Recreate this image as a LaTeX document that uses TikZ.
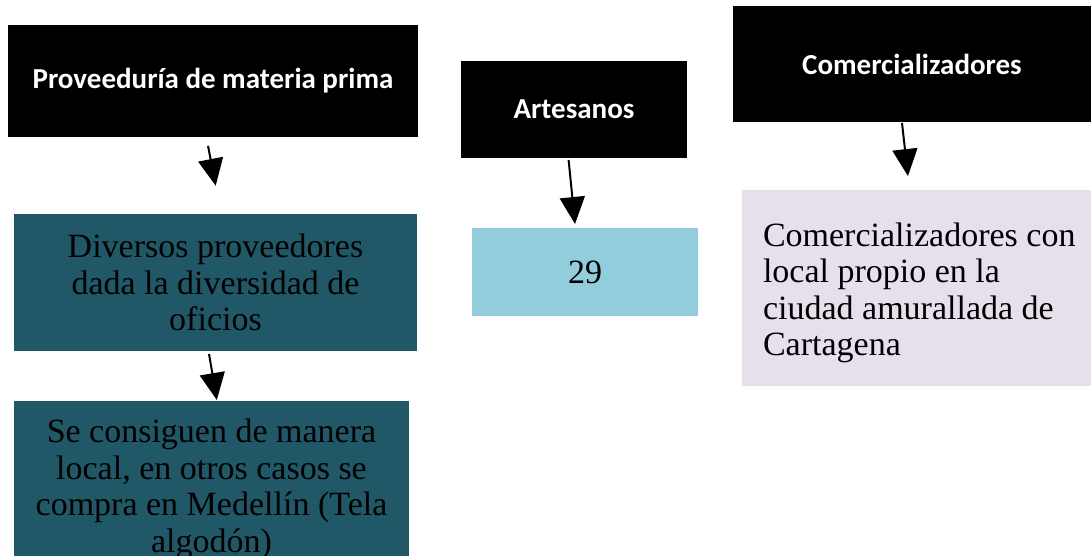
\documentclass[tikz,border=0pt]{standalone}
\usepackage{fontspec}
\setmainfont{Liberation Serif}
\newfontfamily\headfont{Carlito}
\usepackage{tikz}
\usetikzlibrary{arrows.meta,positioning,calc}

\definecolor{tealbox}{HTML}{215868}
\definecolor{skybox}{HTML}{92CDDC}
\definecolor{lilacbox}{HTML}{E5E0EC}

\begin{document}
\begin{tikzpicture}
        [x = 0.5pt, y = -0.5pt, ->, >={Triangle[width=12.5pt, length=13.5pt]}, line width = 1pt,
        head/.style = {rectangle, fill=black, text=white, align=center,
                       font=\headfont\bfseries\fontsize{14.5}{17}\selectfont},
        body/.style = {rectangle, align=center, text=black, inner sep = 0pt,
                       font=\fontsize{17}{18.25}\selectfont}]

        \useasboundingbox (0,0) rectangle (1091,556);
        \clip (0,0) rectangle (1091,556);

        %% place elements on canvas
        \node[head, minimum width = 205pt, minimum height = 56pt] (prov) at (213,81)
            {Proveeduría de materia prima};
        \node[head, minimum width = 113pt, minimum height = 48.5pt] (art) at (574,109.5)
            {Artesanos};
        \node[head, minimum width = 179pt, minimum height = 58pt] (com) at (912,64)
            {Comercializadores};

        \node[body, fill=tealbox, minimum width = 201.5pt, minimum height = 68.5pt] (div) at (215.5,282.5)
            {Diversos proveedores\\dada la diversidad de\\oficios};
        \node[body, fill=tealbox, minimum width = 197.5pt, anchor=north, inner ysep = 9pt] (loc) at (211.5,400)
            {Se consiguen de manera\\local, en otros casos se\\compra en Medellín (Tela\\algodón)\\[6pt]~};
        \node[body, fill=skybox, minimum width = 113pt, minimum height = 44pt] (num) at (585,272)
            {29};
        \node[body, fill=lilacbox, align=flush left, text width = 166pt, inner xsep = 10.5pt,
              minimum height = 98pt, anchor=west] (cart) at (741,288)
            {\rule{0pt}{16.5pt}Comercializadores con\\local propio en la\\ciudad amurallada de\\Cartagena};

        %% connect elements
        \draw[shorten <= 4pt, shorten >= 13.9pt] ($(prov.south)+(-6.5,0)$) -- ($(div.north)+(5.5,0)$);
        \draw[shorten <= 1pt] ($(div.south)+(-6.8,0)$) -- ($(loc.north)+(5.3,0)$);
        \draw[shorten <= 0.5pt, shorten >= 1.5pt] ($(art.south)+(-5.5,0)$) -- ($(num.north)+(-9.7,0)$);
        \draw[shorten >= 6.5pt] ($(com.south)+(-10,0)$) -- ($(cart.north west)+(168.4,0)$);
    \end{tikzpicture}
\end{document}
